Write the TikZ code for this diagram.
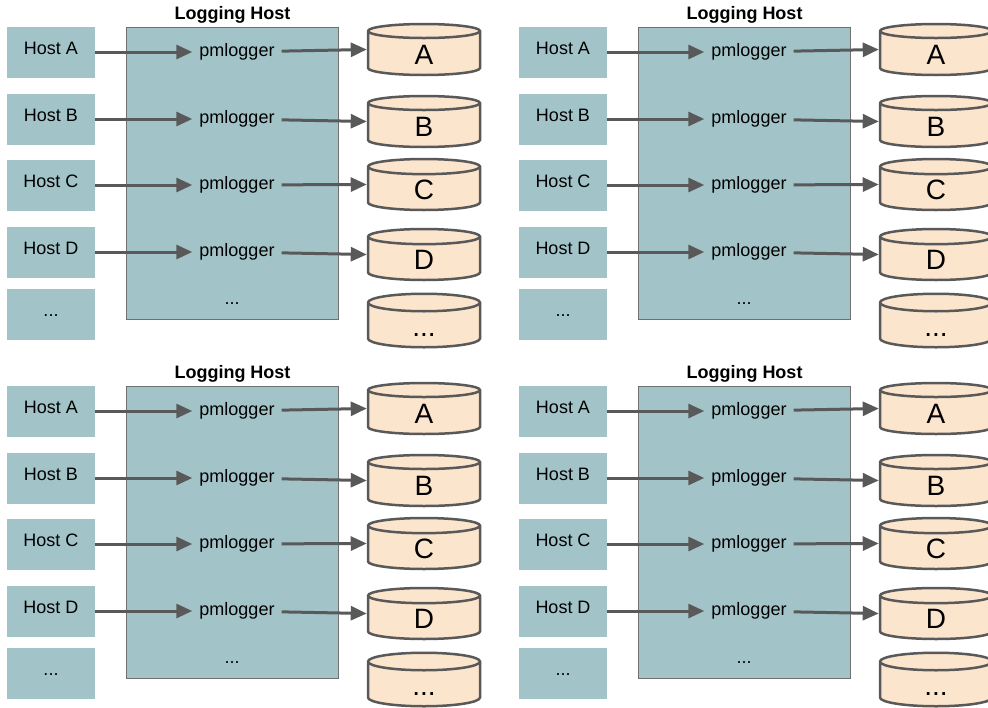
\documentclass[tikz,border=0pt]{standalone}
\usepackage{fontspec}
\setmainfont{Liberation Sans}
\usetikzlibrary{arrows.meta,shapes.geometric}

\definecolor{hostcol}{HTML}{A2C4C9}
\definecolor{diskcol}{HTML}{FCE5CD}
\definecolor{linecol}{HTML}{595959}
\definecolor{framecol}{HTML}{707070}

\tikzset{
  host/.style={fill=hostcol, minimum width=88pt, minimum height=51pt, inner sep=0pt,
    font=\fontsize{18}{20}\selectfont, text height=15pt, text depth=11pt},
  logbox/.style={fill=hostcol, draw=framecol, line width=1pt, inner sep=0pt},
  logger/.style={inner sep=7pt, font=\fontsize{18}{20}\selectfont},
  disk/.style={cylinder, shape border rotate=90, aspect=0.75, draw=linecol, fill=diskcol,
    line width=2.5pt, minimum width=112pt, minimum height=51pt, inner sep=0pt,
    font=\fontsize{28}{30}\selectfont, text height=24pt, text depth=2pt},
  flow/.style={draw=linecol, line width=3pt, -{Triangle[length=16pt,width=14pt]}},
}

\begin{document}
\begin{tikzpicture}[x=1pt, y=-1pt]
  \useasboundingbox (0,0) rectangle (988,707);

  % four copies of the same setup
  \foreach \dx/\dy/\p in {0/0/1, 512/0/2, 0/359/3, 512/359/4} {
    \begin{scope}[shift={(\dx,\dy)}]
      \node[logbox, minimum width=212pt, minimum height=292pt, anchor=north west]
        (log-\p) at (126,27) {};
      \node[font=\bfseries\fontsize{18}{20}\selectfont, above] (title-\p) at (log-\p.north) {Logging Host};

      \foreach \r/\hy/\cy/\lab in {1/52/49.5/A, 2/119/121.5/B, 3/185/184.5/C, 4/252/254.5/D} {
        \node[host] (host-\p-\r) at (51,\hy) {Host \lab};
        \node[logger] (pm-\p-\r) at (237,\hy) {pmlogger};
        \node[disk, anchor=shape center] (db-\p-\r) at (424,\cy) {\lab};
        \draw[flow] (host-\p-\r) -- (pm-\p-\r);
        \draw[flow] (pm-\p-\r) -- (db-\p-\r.shape center -| db-\p-\r.west);
      }

      % the rest
      \node[host] (host-\p-5) at (51,314) {...};
      \node[font=\fontsize{18}{20}\selectfont] (more-\p) at (232,304) {...};
      \node[disk, anchor=shape center] (db-\p-5) at (424,320.5) {...};
    \end{scope}
  }
\end{tikzpicture}
\end{document}
